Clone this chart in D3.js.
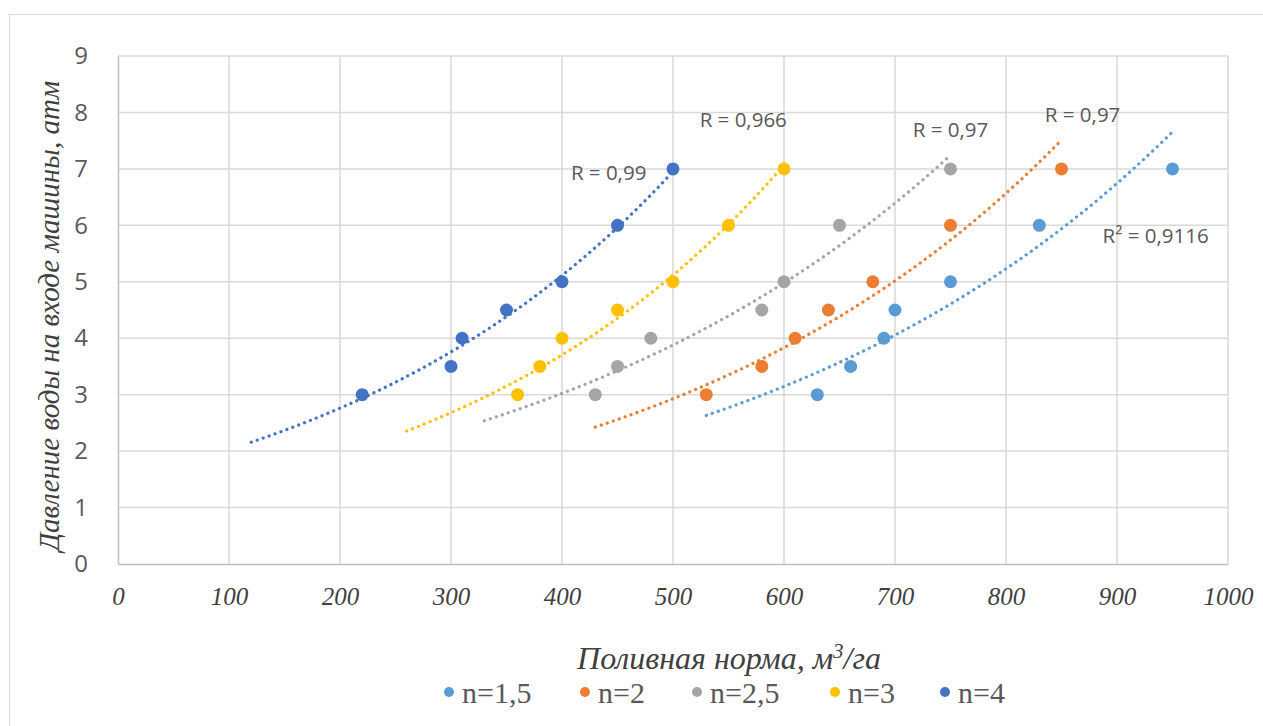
<!DOCTYPE html>
<html>
<head>
<meta charset="utf-8">
<script src="https://cdn.jsdelivr.net/npm/d3@7"></script>
<style>
  body { margin: 0; background: #fff; }
</style>
</head>
<body>
<div id="chart"></div>
<script>
// series names and colours
var seriesNames = ["n=1,5", "n=2", "n=2,5", "n=3", "n=4"];
var seriesColors = ["#5b9bd5", "#ed7d31", "#a5a5a5", "#ffc000", "#4472c4"];

// pressure levels shared by every series (atm)
var pressure = [3, 3.5, 4, 4.5, 5, 6, 7];

// irrigation norm (m3/ha) per series
var normN15 = [630, 660, 690, 700, 750, 830, 950];
var normN2  = [530, 580, 610, 640, 680, 750, 850];
var normN25 = [430, 450, 480, 580, 600, 650, 750];
var normN3  = [360, 380, 400, 450, 500, 550, 600];
var normN4  = [220, 300, 310, 350, 400, 450, 500];

// trendline labels
var trendLabels = ["R² = 0,9116", "R = 0,97", "R = 0,97", "R = 0,966", "R = 0,99"];
var backwardForecast = 100;

var xTicks = [0, 100, 200, 300, 400, 500, 600, 700, 800, 900, 1000];
var yTicks = [0, 1, 2, 3, 4, 5, 6, 7, 8, 9];

// label anchors in data units (left edge x, middle y)
var labelPos = [[887, 5.81], [835, 7.96], [716, 7.69], [524, 7.87], [408, 6.93]];

var W = 1263, H = 726;
var margin = {top: 56, right: 35, bottom: 162, left: 118};
var width = W - margin.left - margin.right,
    height = H - margin.top - margin.bottom;

var allNorms = [normN15, normN2, normN25, normN3, normN4];
var series = seriesNames.map(function(name, i) {
  return {
    name: name,
    color: seriesColors[i],
    pts: allNorms[i].map(function(v, j) { return {x: v, y: pressure[j]}; })
  };
});

var root = d3.select("#chart").append("svg")
  .attr("width", W).attr("height", H);

// outer chart border
root.append("rect")
  .attr("x", 9.5).attr("y", 14.5)
  .attr("width", W + 20).attr("height", H + 20)
  .attr("fill", "none").attr("stroke", "#d9d9d9").attr("stroke-width", 1);

var svg = root.append("g")
  .attr("transform", "translate(" + margin.left + "," + margin.top + ")");

var x = d3.scaleLinear().domain([0, 1000]).range([0, width]);
var y = d3.scaleLinear().domain([0, 9]).range([height, 0]);

// grid
svg.append("g")
  .selectAll("line.vg")
  .data(xTicks.slice(1))
  .enter().append("line")
  .attr("x1", function(d){ return x(d); }).attr("x2", function(d){ return x(d); })
  .attr("y1", 0).attr("y2", height)
  .attr("stroke", "#d9d9d9").attr("stroke-width", 1.5);

svg.append("g")
  .selectAll("line.hg")
  .data(yTicks.slice(1))
  .enter().append("line")
  .attr("x1", 0).attr("x2", width)
  .attr("y1", function(d){ return y(d); }).attr("y2", function(d){ return y(d); })
  .attr("stroke", "#d9d9d9").attr("stroke-width", 1.5);

// axes
var xAxis = svg.append("g")
  .attr("transform", "translate(0," + height + ")")
  .call(d3.axisBottom(x).tickValues(xTicks).tickFormat(d3.format("d")).tickSize(0).tickPadding(23));
xAxis.select(".domain").attr("stroke", "#bfbfbf").attr("stroke-width", 1.5);
xAxis.selectAll("text")
  .attr("font-family", "'Liberation Serif', 'Times New Roman', serif")
  .attr("font-style", "italic")
  .attr("font-size", "25px")
  .attr("fill", "#404040");

var yAxis = svg.append("g")
  .call(d3.axisLeft(y).tickValues(yTicks).tickSize(0).tickPadding(30));
yAxis.select(".domain").attr("stroke", "#bfbfbf").attr("stroke-width", 1.5);
yAxis.selectAll("text")
  .attr("font-family", "'Open Sans', 'Liberation Sans', sans-serif")
  .attr("font-size", "24px")
  .attr("fill", "#595959");

// trendlines (exponential fit, like the spreadsheet)
function expFit(pts) {
  var mx = d3.mean(pts, function(d){ return d.x; });
  var ml = d3.mean(pts, function(d){ return Math.log(d.y); });
  var sxy = d3.sum(pts, function(d){ return (d.x - mx) * (Math.log(d.y) - ml); });
  var sxx = d3.sum(pts, function(d){ return (d.x - mx) * (d.x - mx); });
  var b = sxy / sxx;
  var a = ml - b * mx;
  return function(v) { return Math.exp(a + b * v); };
}

var trendLine = d3.line()
  .x(function(d){ return x(d[0]); })
  .y(function(d){ return y(d[1]); });

series.forEach(function(s) {
  var f = expFit(s.pts);
  var x0 = d3.min(s.pts, function(d){ return d.x; }) - backwardForecast;
  var x1 = d3.max(s.pts, function(d){ return d.x; });
  var curve = d3.range(0, 61).map(function(k) {
    var v = x0 + (x1 - x0) * k / 60;
    return [v, f(v)];
  });
  svg.append("path")
    .attr("d", trendLine(curve))
    .attr("fill", "none")
    .attr("stroke", s.color)
    .attr("stroke-width", 3.2)
    .attr("stroke-linecap", "round")
    .attr("stroke-dasharray", "0.1 6.2");
});

// points
series.forEach(function(s) {
  svg.append("g")
    .selectAll("circle")
    .data(s.pts)
    .enter().append("circle")
    .attr("cx", function(d){ return x(d.x); })
    .attr("cy", function(d){ return y(d.y); })
    .attr("r", 6.5)
    .attr("fill", s.color);
});

// R labels
svg.append("g")
  .selectAll("text")
  .data(trendLabels)
  .enter().append("text")
  .attr("x", function(d, i){ return x(labelPos[i][0]); })
  .attr("y", function(d, i){ return y(labelPos[i][1]); })
  .attr("dy", "0.35em")
  .attr("font-family", "'Open Sans', 'Liberation Sans', sans-serif")
  .attr("font-size", "20.5px")
  .attr("fill", "#595959")
  .text(function(d){ return d; });

// axis titles
root.append("text")
  .attr("x", 729).attr("y", 669)
  .attr("text-anchor", "middle")
  .attr("font-family", "'Liberation Serif', 'Times New Roman', serif")
  .attr("font-style", "italic")
  .attr("font-size", "32px")
  .attr("fill", "#404040")
  .html("Поливная норма, м<tspan dy='-11' font-size='21px'>3</tspan><tspan dy='11'>/га</tspan>");

root.append("text")
  .attr("transform", "translate(59,316) rotate(-90)")
  .attr("text-anchor", "middle")
  .attr("font-family", "'Liberation Serif', 'Times New Roman', serif")
  .attr("font-style", "italic")
  .attr("font-size", "29px")
  .attr("fill", "#404040")
  .text("Давление воды на входе машины, атм");

// legend
var legendX = [449, 585, 697, 835, 945];
var legend = root.append("g").selectAll("g")
  .data(series)
  .enter().append("g")
  .attr("transform", function(d, i){ return "translate(" + legendX[i] + ",692)"; });
legend.append("circle")
  .attr("r", 5)
  .attr("fill", function(d){ return d.color; });
legend.append("text")
  .attr("x", 13)
  .attr("dy", "0.35em")
  .attr("font-family", "'Liberation Serif', 'Times New Roman', serif")
  .attr("font-size", "30px")
  .attr("fill", "#595959")
  .text(function(d){ return d.name; });
</script>
</body>
</html>
